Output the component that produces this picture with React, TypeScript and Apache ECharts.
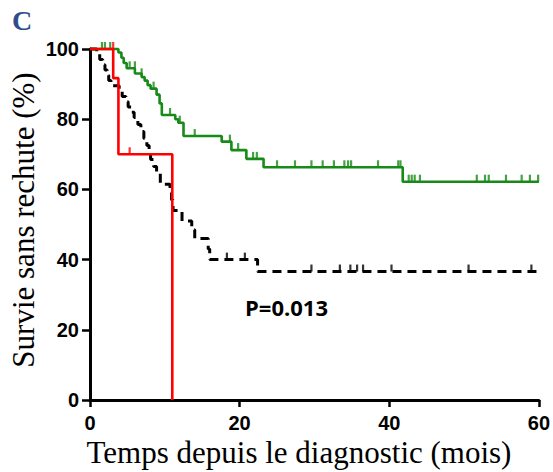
import React, { useEffect, useRef } from "react";
import * as echarts from "echarts";

const xTicks = [0, 20, 40, 60];
const yTicks = [0, 20, 40, 60, 80, 100];
const xTitle = "Temps depuis le diagnostic (mois)";
const yTitle = "Survie sans rechute (%)";
const panelLabel = "C";
const pValueText = "P=0.013";

// Kaplan-Meier curves: [time (months), survival (%)]
const blackCurve: [number, number][] = [
  [0, 100], [0.9, 98.5], [1.3, 97], [1.7, 95.5], [2.0, 94], [2.3, 92.5], [2.5, 91],
  [2.8, 89.5], [3.9, 88], [4.3, 86.5], [4.8, 85], [5.1, 83.5], [5.5, 82], [5.9, 80.5],
  [6.4, 78.5], [6.8, 76.5], [7.2, 74.5], [7.6, 72.5], [7.9, 70.5], [8.1, 68.5],
  [8.5, 66.5], [8.9, 64.5], [9.4, 61.5], [10.7, 59.5], [10.9, 57], [11.1, 54],
  [12.3, 51], [13.6, 48.5], [14.0, 46], [15.8, 43], [16.0, 40], [22.4, 36.6], [60, 36.6],
];
const greenCurve: [number, number][] = [
  [0, 100], [3.8, 99], [4.2, 97.5], [4.5, 96], [4.9, 94.5], [6.0, 93], [6.9, 92],
  [7.3, 91], [7.7, 89.7], [8.1, 88.7], [8.9, 87], [9.3, 84.5], [9.6, 81.2],
  [11.4, 80], [11.8, 79], [12.5, 75.2], [17.6, 73.6], [18.9, 71.2], [20.9, 68.7],
  [23.2, 66.3], [41.8, 62.2], [60, 62.2],
];
const redCurve: [number, number][] = [
  [0, 100], [3.1, 91.7], [3.8, 70], [11.0, 0],
];

// Censored observations: [time, survival]
const blackCensor: [number, number][] = [
  [18.3, 40], [20.7, 40], [29.6, 36.6], [33.4, 36.6], [34.8, 36.6], [35.7, 36.6],
  [36.5, 36.6], [40.3, 36.6], [50.6, 36.6], [59.0, 36.6],
];
const greenCensor: [number, number][] = [
  [1.6, 100], [2.0, 100], [2.7, 100], [5.3, 94.5], [6.0, 94.5], [6.9, 92.5],
  [8.5, 88.7], [10.7, 81.2], [12.0, 79], [14.0, 75.2], [18.7, 73.6], [19.8, 71.2],
  [21.8, 68.7], [22.3, 68.7], [25.0, 66.3], [27.4, 66.3], [29.6, 66.3], [31.1, 66.3],
  [32.6, 66.3], [34.0, 66.3], [34.5, 66.3], [34.9, 66.3], [38.5, 66.3], [41.2, 66.3],
  [41.5, 66.3], [42.6, 62.2], [43.0, 62.2], [43.4, 62.2], [44.1, 62.2], [51.7, 62.2],
  [52.8, 62.2], [53.3, 62.2], [55.6, 62.2], [57.7, 62.2], [58.8, 62.2], [59.9, 62.2],
];
const redCensor: [number, number][] = [[3.1, 100], [5.3, 70]];

const GREEN = "#178a17";
const RED = "#ff0000";
const BLACK = "#000000";

function censorSeries(data: [number, number][], color: string) {
  return {
    type: "scatter",
    data,
    symbol: "rect",
    symbolSize: [2.2, 7],
    symbolOffset: [0, "-50%"],
    itemStyle: { color },
    clip: false,
    silent: true,
    z: 3,
  };
}

export default function App() {
  const ref = useRef<HTMLDivElement>(null);
  useEffect(() => {
    if (!ref.current) return;
    const chart = echarts.init(ref.current, null, { renderer: "svg" });
    const tickFont = {
      fontFamily: "Liberation Sans",
      fontWeight: "bold" as const,
      fontSize: 20,
      lineHeight: 18,
      color: "#000",
    };
    chart.setOption({
      animation: false,
      backgroundColor: "#fff",
      grid: { left: 90, right: 14, top: 49, bottom: 72 },
      xAxis: {
        type: "value",
        min: 0,
        max: 60,
        interval: 20,
        axisLine: { lineStyle: { color: "#000", width: 3 } },
        axisTick: { length: 7, lineStyle: { color: "#000", width: 2.5 } },
        axisLabel: { ...tickFont, margin: 14, formatter: (v: number) => (xTicks.includes(v) ? String(v) : "") },
        splitLine: { show: false },
      },
      yAxis: {
        type: "value",
        min: 0,
        max: 100,
        interval: 20,
        axisLine: { show: true, lineStyle: { color: "#000", width: 3 } },
        axisTick: { show: true, length: 8, lineStyle: { color: "#000", width: 2.5 } },
        axisLabel: { ...tickFont, margin: 11, formatter: (v: number) => (yTicks.includes(v) ? String(v) : "") },
        splitLine: { show: false },
      },
      graphic: [
        {
          type: "text",
          left: 12,
          top: 6,
          style: { text: panelLabel, font: "bold 28px 'Liberation Serif'", fill: "#2f4d8a" },
        },
        {
          type: "text",
          x: 245,
          y: 307,
          style: {
            text: pValueText,
            font: "bold 22px 'Open Sans'",
            fill: "#000",
            verticalAlign: "middle",
          },
        },
        {
          type: "text",
          x: 299,
          y: 452,
          style: {
            text: xTitle,
            font: "31px 'Liberation Serif'",
            lineHeight: 28,
            fill: "#000",
            align: "center",
            verticalAlign: "middle",
          },
        },
        {
          type: "text",
          x: 23,
          y: 220,
          rotation: Math.PI / 2,
          style: {
            text: yTitle,
            font: "31px 'Liberation Serif'",
            fill: "#000",
            align: "center",
            verticalAlign: "middle",
          },
        },
      ],
      series: [
        {
          type: "line",
          data: blackCurve,
          step: "end",
          showSymbol: false,
          clip: false,
          lineStyle: { color: BLACK, width: 3, type: [9, 6] },
          z: 2,
        },
        {
          type: "line",
          data: greenCurve,
          step: "end",
          showSymbol: false,
          clip: false,
          lineStyle: { color: GREEN, width: 2.6 },
          z: 2,
        },
        {
          type: "line",
          data: redCurve,
          step: "end",
          showSymbol: false,
          clip: false,
          lineStyle: { color: RED, width: 2.6 },
          z: 4,
        },
        censorSeries(blackCensor, BLACK),
        censorSeries(greenCensor, GREEN),
        censorSeries(redCensor, RED),
      ],
    });
    return () => chart.dispose();
  }, []);
  return <div ref={ref} style={{ position: "absolute", left: 0, top: 0, width: 553, height: 472 }} />;
}
